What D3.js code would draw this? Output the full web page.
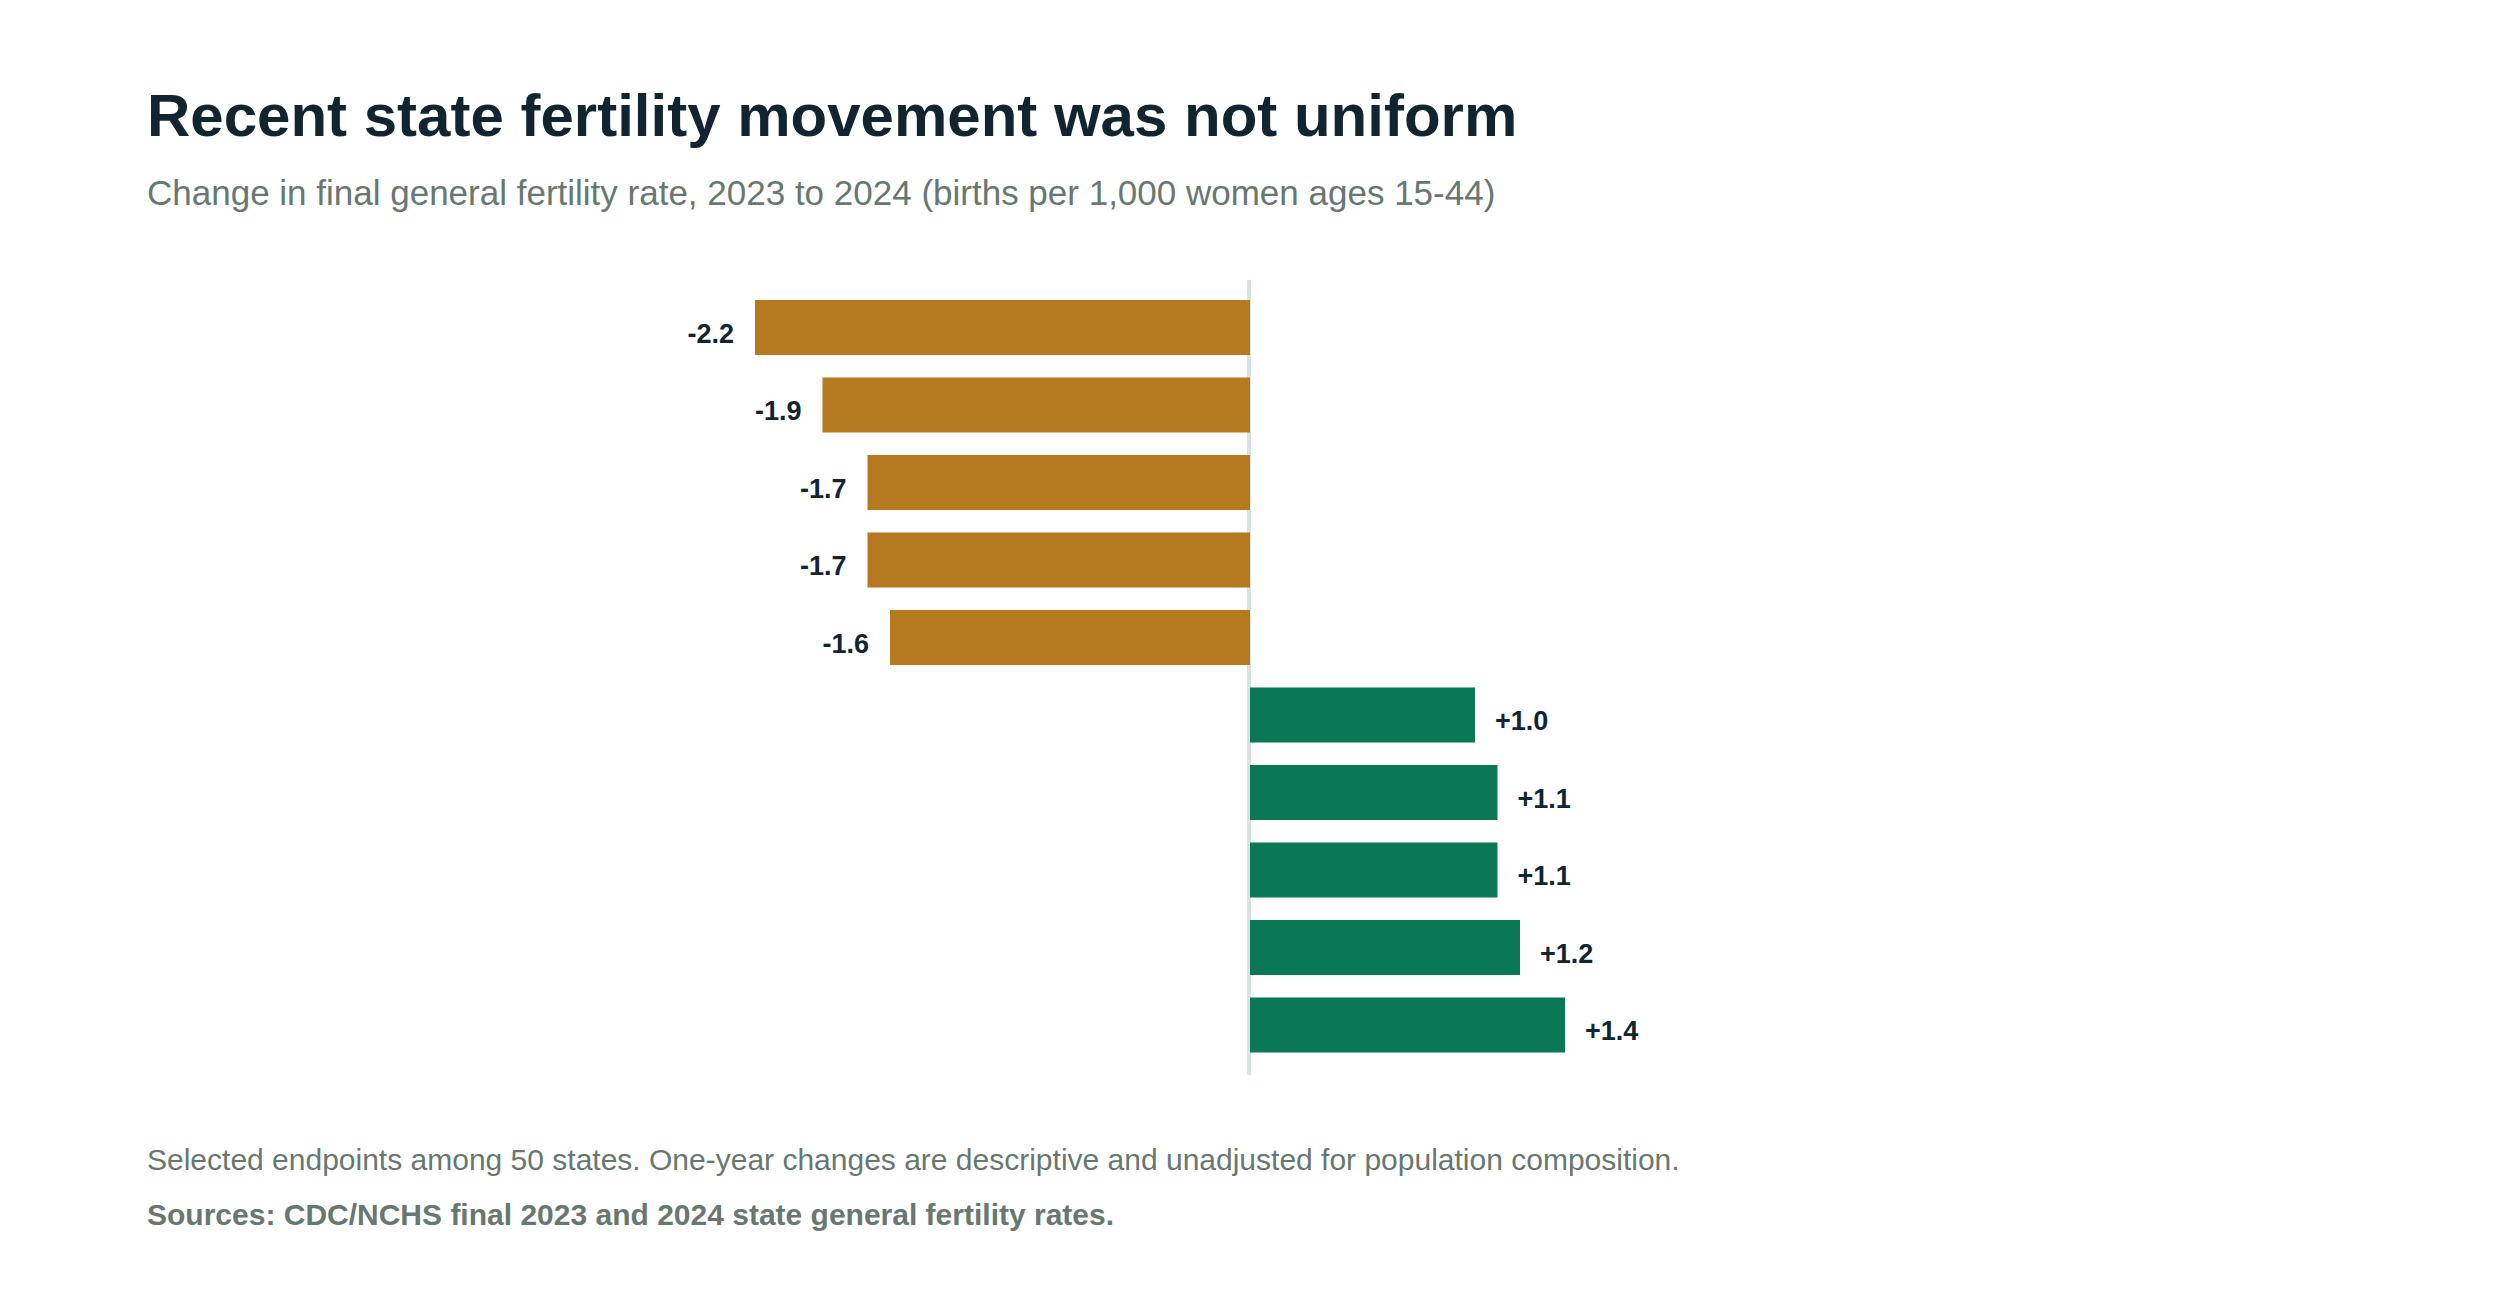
<!DOCTYPE html>
<html>
<head>
<meta charset="utf-8">
<script src="https://cdn.jsdelivr.net/npm/d3@7/dist/d3.min.js"></script>
<style>
  html, body { margin: 0; padding: 0; background: #ffffff; }
  svg { display: block; font-family: "Liberation Sans", Arial, sans-serif; }
</style>
</head>
<body>
<svg id="chart" width="2500" height="1300"></svg>
<script>
// Data (states are not labelled in the reference; one entry per bar)
const barIds = ["n1", "n2", "n3", "n4", "n5", "p1", "p2", "p3", "p4", "p5"];
const changes = [-2.2, -1.9, -1.7, -1.7, -1.6, 1.0, 1.1, 1.1, 1.2, 1.4];

const titleText = "Recent state fertility movement was not uniform";
const subtitleText = "Change in final general fertility rate, 2023 to 2024 (births per 1,000 women ages 15-44)";
const noteText = "Selected endpoints among 50 states. One-year changes are descriptive and unadjusted for population composition.";
const sourceText = "Sources: CDC/NCHS final 2023 and 2024 state general fertility rates.";

const data = barIds.map((id, i) => ({ id, value: changes[i] }));

const svg = d3.select("#chart");

// Scales
const x = d3.scaleLinear().domain([-2.2, 1.4]).range([755, 1565]);
const y = d3.scaleBand().domain(barIds).range([288.75, 1063.75]).paddingInner(0.29).paddingOuter(0.145);

const negColor = "#b57920";
const posColor = "#0a7755";
const textDark = "#10252f";
const textGrey = "#667870";

// Title and subtitle
svg.append("text").attr("x", 147).attr("y", 136)
  .attr("font-size", 60).attr("font-weight", "bold").attr("fill", textDark)
  .text(titleText);
svg.append("text").attr("x", 147).attr("y", 205)
  .attr("font-size", 35).attr("fill", textGrey)
  .text(subtitleText);

// Zero line
svg.append("line")
  .attr("x1", x(0) - 1).attr("x2", x(0) - 1)
  .attr("y1", 280).attr("y2", 1075)
  .attr("stroke", "#d8e5df").attr("stroke-width", 4);

// Bars
svg.append("g").selectAll("rect").data(data).join("rect")
  .attr("x", d => x(Math.min(0, d.value)))
  .attr("width", d => Math.abs(x(d.value) - x(0)))
  .attr("y", d => y(d.id))
  .attr("height", y.bandwidth())
  .attr("fill", d => d.value < 0 ? negColor : posColor);

// Value labels
const fmt = v => (v > 0 ? "+" : "") + d3.format(".1f")(v).replace("−", "-");
svg.append("g").selectAll("text").data(data).join("text")
  .attr("x", d => d.value < 0 ? x(d.value) - 21 : x(d.value) + 20)
  .attr("y", d => y(d.id) + y.bandwidth() / 2 + 15)
  .attr("text-anchor", d => d.value < 0 ? "end" : "start")
  .attr("font-size", 27).attr("font-weight", "bold").attr("fill", textDark)
  .text(d => fmt(d.value));

// Footnotes
svg.append("text").attr("x", 147).attr("y", 1170)
  .attr("font-size", 30).attr("fill", textGrey)
  .text(noteText);
svg.append("text").attr("x", 147).attr("y", 1225)
  .attr("font-size", 30).attr("font-weight", "bold").attr("fill", textGrey)
  .text(sourceText);
</script>
</body>
</html>
